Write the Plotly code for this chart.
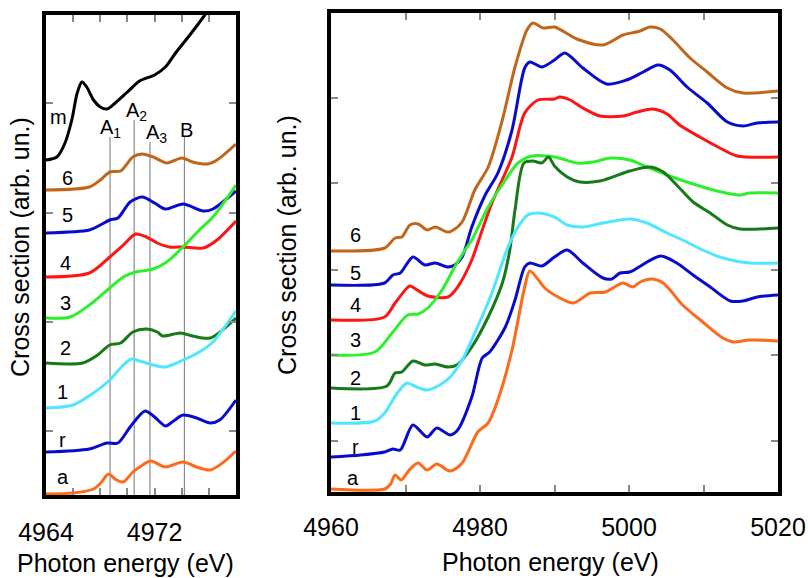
import plotly.graph_objects as go

W, H = 808, 578

# ---------------- data: right panel (full XANES), arb. units ----------------
R_a_E = [4960, 4967.2, 4968.0, 4968.6, 4969.4, 4970.5, 4971.7, 4972.9, 4974.2, 4976.0, 4977.6, 4979.7, 4981.1, 4982.4, 4984.3, 4986.0, 4986.7, 4988.7, 4990.0, 4992.5, 4994.8, 4996.8, 4999.2, 5000.5, 5001.5, 5003.1, 5004.6, 5007.2, 5009.9, 5012.6, 5014.0, 5016.2, 5020]
R_a_v = [3, 3, 8, 17, 12, 22, 29, 22, 28, 21, 29, 60, 69, 92, 142, 205, 221, 204, 197, 189, 199, 200, 209, 205, 210, 213, 209, 187, 170, 154, 150, 152, 151]

R_r_E = [4960, 4964, 4967.2, 4968.3, 4969.3, 4971.0, 4972.9, 4974.2, 4976.0, 4977.0, 4978.9, 4980.3, 4981.3, 4983.4, 4984.7, 4986.0, 4986.7, 4988.3, 4990.0, 4991.7, 4993.8, 4996.5, 4997.7, 4998.8, 5000.1, 5004.2, 5006.4, 5008.6, 5010.9, 5013.6, 5015.3, 5017.2, 5020]
R_r_v = [35, 37, 40, 43, 42, 67, 55, 64, 57, 62, 95, 134, 140, 165, 192, 225, 229, 226, 235, 242, 229, 214, 213, 219, 220, 236, 229, 217, 205, 191, 191, 195, 197]

R_1_E = [4960, 4965.9, 4967.2, 4968.9, 4970.2, 4971.5, 4972.9, 4974.6, 4976.0, 4977.6, 4979.3, 4981.6, 4983.6, 4985.1, 4986.4, 4987.8, 4990.0, 4991.7, 4993.8, 4996.5, 5000.1, 5002.4, 5005.1, 5007.2, 5009.9, 5012.6, 5016.2, 5020]
R_1_v = [69, 71, 79, 99, 109, 105, 102, 107, 115, 132, 159, 199, 242, 265, 277, 279, 275, 267, 265, 269, 273, 269, 259, 252, 242, 234, 229, 229]

R_2_E = [4960, 4967.5, 4968.6, 4969.5, 4971.0, 4972.6, 4974.0, 4975.7, 4976.9, 4978.9, 4981.1, 4983.0, 4984.0, 4984.7, 4985.9, 4987.1, 4988.3, 4989.2, 4990.0, 4991.7, 4993.4, 4996.1, 5000.1, 5002.8, 5004.6, 5006.4, 5008.6, 5010.9, 5013.2, 5014.9, 5020]
R_2_v = [104, 106, 119, 120, 131, 127, 128, 125, 127, 145, 175, 209, 242, 282, 329, 331, 329, 335, 326, 315, 310, 311, 321, 325, 320, 307, 290, 279, 267, 263, 264]

R_3_E = [4960, 4965.9, 4968.2, 4970.3, 4971.7, 4973.0, 4974.9, 4976.6, 4978.0, 4978.9, 4981.1, 4983.4, 4985.1, 4987.0, 4990.0, 4993.0, 4995.2, 4997.5, 5000.1, 5002.4, 5005.1, 5008.2, 5011.8, 5014.9, 5016.2, 5020]
R_3_v = [137, 140, 159, 177, 178, 184, 202, 225, 242, 252, 285, 312, 329, 336, 335, 329, 330, 334, 332, 325, 317, 309, 301, 297, 299, 299]

R_4_E = [4960, 4967.2, 4968.6, 4970.2, 4970.6, 4972.2, 4973.0, 4975.7, 4977.0, 4978.9, 4979.7, 4981.6, 4984.3, 4986.0, 4987.8, 4990.0, 4990.7, 4992.1, 4993.8, 4996.1, 4999.2, 5001.1, 5003.2, 5005.1, 5006.8, 5009.5, 5012.2, 5014.5, 5020]
R_4_v = [172, 175, 189, 204, 206, 199, 196, 195, 205, 232, 249, 289, 335, 379, 392, 393, 395, 392, 384, 376, 376, 380, 383, 378, 367, 355, 344, 336, 335]

R_5_E = [4960, 4967.2, 4968.3, 4969.3, 4971.0, 4972.6, 4974.0, 4975.7, 4976.6, 4977.6, 4978.9, 4980.7, 4982.4, 4984.3, 4986.0, 4986.7, 4988.3, 4990.0, 4991.4, 4993.8, 4997.0, 4999.7, 5001.9, 5003.9, 5005.5, 5007.8, 5010.5, 5013.2, 5015.3, 5017.2, 5020]
R_5_v = [207, 209, 217, 219, 235, 227, 229, 225, 227, 235, 265, 297, 319, 362, 424, 430, 425, 432, 439, 424, 408, 412, 420, 427, 422, 405, 389, 370, 366, 369, 370]

R_6_E = [4960, 4967.2, 4968.6, 4969.5, 4970.6, 4971.7, 4972.9, 4974.0, 4975.6, 4976.2, 4977.6, 4979.3, 4981.1, 4983.0, 4984.7, 4986.3, 4987.1, 4988.5, 4990.0, 4993.0, 4996.5, 4999.2, 5001.5, 5002.8, 5004.2, 5005.9, 5008.2, 5010.5, 5013.2, 5015.3, 5020]
R_6_v = [241, 244, 254, 255, 267, 268, 262, 265, 260, 261, 270, 302, 325, 372, 425, 462, 469, 464, 465, 453, 447, 457, 461, 465, 463, 452, 434, 420, 404, 399, 401]

# ---------------- data: left panel (pre-edge zoom), arb. units ----------------
L_m_E = [4964, 4964.8, 4965.4, 4965.9, 4966.3, 4966.65, 4967.0, 4967.5, 4968.0, 4968.5, 4969.1, 4970.0, 4970.9, 4972.0, 4972.8, 4973.6, 4974.6, 4975.6, 4976.5]
L_m_v = [335, 338, 352, 375, 402, 413, 408, 395, 388, 386, 392, 403, 414, 420, 428, 443, 460, 478, 495]

L_6_E = [4964, 4967.2, 4968.0, 4968.7, 4969.5, 4970.4, 4971.1, 4971.9, 4972.9, 4974.0, 4974.8, 4975.9, 4976.6, 4978]
L_6_v = [305, 308, 315, 323, 324, 338, 341, 338, 332, 337, 333, 331, 335, 351]

L_5_E = [4964, 4967.2, 4968.0, 4968.7, 4969.3, 4970.2, 4971.1, 4972.0, 4972.8, 4974.1, 4975.6, 4976.3, 4978]
L_5_v = [262, 265, 270, 275, 277, 293, 298, 292, 286, 291, 284, 286, 304]

L_4_E = [4964, 4967.2, 4968.7, 4969.7, 4970.6, 4971.4, 4972.2, 4973.1, 4974.1, 4975.6, 4976.6, 4978]
L_4_v = [218, 222, 238, 250, 261, 258, 252, 248, 248, 247, 255, 274]

L_3_E = [4964, 4965.8, 4967.2, 4968.7, 4969.7, 4970.6, 4971.9, 4972.9, 4974.1, 4975.3, 4976.3, 4978]
L_3_v = [177, 178, 190, 207, 218, 223, 226, 233, 248, 265, 278, 310]

L_2_E = [4964, 4966.7, 4967.8, 4968.7, 4969.5, 4970.4, 4971.4, 4972.2, 4972.6, 4973.9, 4974.8, 4976.1, 4978]
L_2_v = [132, 132, 140, 150, 152, 163, 166, 163, 159, 162, 159, 157, 177]

L_1_E = [4964, 4966, 4967.5, 4968.7, 4969.7, 4970.3, 4970.9, 4971.9, 4972.8, 4974.1, 4975.3, 4976.3, 4977.0, 4978]
L_1_v = [87, 90, 102, 115, 130, 136, 134, 130, 128, 135, 143, 153, 165, 184]

L_r_E = [4964, 4967.2, 4968.5, 4969.3, 4970.2, 4971.3, 4972.0, 4972.8, 4973.4, 4974.1, 4975.1, 4976.1, 4976.8, 4978]
L_r_v = [43, 46, 52, 52, 68, 84, 78, 69, 74, 80, 77, 72, 75, 95]

L_a_E = [4964, 4966, 4967.5, 4968.1, 4968.6, 4969.2, 4969.7, 4970.4, 4970.9, 4971.7, 4972.8, 4974.1, 4975.1, 4976.1, 4977.0, 4978]
L_a_v = [1, 2, 6, 13, 21, 15, 13, 23, 28, 34, 28, 33, 28, 25, 32, 44]

# pre-edge feature markers (left panel)
feat_names = ["A<sub>1</sub>", "A<sub>2</sub>", "A<sub>3</sub>", "B"]
feat_E = [4968.72, 4970.5, 4971.66, 4974.2]
feat_top = [358, 375, 353, 358]

# curve labels
lab_names = ["m", "6", "5", "4", "3", "2", "1", "r", "a"]
L_lab_E = [4964.9, 4965.55, 4965.6, 4965.4, 4965.4, 4965.4, 4965.2, 4965.2, 4965.25]
L_lab_v = [378, 317, 280, 232, 192, 147, 103, 55, 18]
R_lab_names = ["6", "5", "4", "3", "2", "1", "r", "a"]
R_lab_E = [4963.35, 4963.35, 4963.35, 4963.35, 4963.35, 4963.35, 4963.35, 4963.0]
R_lab_v = [257, 219, 187, 152, 114, 79, 45, 14]

# ticks
L_xlabels = [4964, 4972]
L_xminor = 2
R_xlabels = [4960, 4980, 5000, 5020]
R_xminor = 10
L_yticks = [64, 173, 282, 392]
R_yticks = [51, 137, 222, 309, 394]

COL = {
    "m": "#000000", "6": "#C0661A", "5": "#0A0ACD", "4": "#FF1414",
    "3": "#2DF02D", "2": "#167A16", "1": "#4FE6FF", "r": "#0A0ACD", "a": "#FF6A1A",
}

left = [("m", L_m_E, L_m_v), ("6", L_6_E, L_6_v), ("5", L_5_E, L_5_v), ("4", L_4_E, L_4_v),
        ("3", L_3_E, L_3_v), ("2", L_2_E, L_2_v), ("1", L_1_E, L_1_v), ("r", L_r_E, L_r_v),
        ("a", L_a_E, L_a_v)]
right = [("6", R_6_E, R_6_v), ("5", R_5_E, R_5_v), ("4", R_4_E, R_4_v), ("3", R_3_E, R_3_v),
         ("2", R_2_E, R_2_v), ("1", R_1_E, R_1_v), ("r", R_r_E, R_r_v), ("a", R_a_E, R_a_v)]

fig = go.Figure()

for e, top in zip(feat_E, feat_top):
    fig.add_trace(go.Scatter(x=[e, e], y=[0, top], mode="lines",
                             line=dict(color="#8a8a8a", width=1.2),
                             xaxis="x", yaxis="y", showlegend=False, hoverinfo="skip"))

for name, ex, vy in left:
    fig.add_trace(go.Scatter(x=ex, y=vy, mode="lines",
                             line=dict(color=COL[name], width=3, shape="spline", smoothing=0.8),
                             xaxis="x", yaxis="y", showlegend=False))
for name, ex, vy in right:
    fig.add_trace(go.Scatter(x=ex, y=vy, mode="lines",
                             line=dict(color=COL[name], width=3, shape="spline", smoothing=0.8),
                             xaxis="x2", yaxis="y2", showlegend=False))

FONT = "Liberation Sans, Arial, sans-serif"
TICKFONT = dict(family=FONT, size=25, color="black")

common = dict(showline=True, linecolor="black", linewidth=4, mirror="allticks",
              ticks="inside", ticklen=7, tickwidth=1.5, tickcolor="#888888",
              showgrid=False, zeroline=False, fixedrange=True, automargin=False)
minor_style = dict(ticks="inside", ticklen=7, tickwidth=1.5, tickcolor="#888888", showgrid=False)

fig.update_layout(
    width=W, height=H, margin=dict(l=0, r=0, t=0, b=0, autoexpand=False),
    paper_bgcolor="white", plot_bgcolor="white",
    xaxis=dict(domain=[46 / W, 236 / W], range=[4964, 4978], anchor="y",
               tickmode="array", tickvals=L_xlabels, tickfont=TICKFONT,
               minor=dict(dtick=L_xminor, tick0=4964, **minor_style),
               ticklabelstandoff=12, **common),
    yaxis=dict(domain=[1 - 495 / H, 1 - 15 / H], range=[0, 480], anchor="x",
               tickmode="array", tickvals=L_yticks, showticklabels=False, **common),
    xaxis2=dict(domain=[331 / W, 778 / W], range=[4960, 5020], anchor="y2",
                tickmode="array", tickvals=R_xlabels, tickfont=TICKFONT,
                minor=dict(dtick=R_xminor, tick0=4960, **minor_style),
                ticklabelstandoff=10, **common),
    yaxis2=dict(domain=[1 - 492 / H, 1 - 13 / H], range=[0, 479], anchor="x2",
                tickmode="array", tickvals=R_yticks, showticklabels=False, **common),
)

ann = []
for n, e, v in zip(lab_names, L_lab_E, L_lab_v):
    ann.append(dict(x=e, y=v, xref="x", yref="y", text=n, showarrow=False,
                    font=dict(family=FONT, size=20, color="black"),
                    xanchor="center", yanchor="middle"))
for n, e, v in zip(R_lab_names, R_lab_E, R_lab_v):
    ann.append(dict(x=e, y=v, xref="x2", yref="y2", text=n, showarrow=False,
                    font=dict(family=FONT, size=20, color="black"),
                    xanchor="center", yanchor="middle"))
feat_shift = [0, 2, 7, 2]
for n, e, top, sh in zip(feat_names, feat_E, feat_top, feat_shift):
    ann.append(dict(x=e, y=top, xref="x", yref="y", text=n, showarrow=False,
                    font=dict(family=FONT, size=20, color="black"),
                    xanchor="center", yanchor="bottom", yshift=-6, xshift=sh))

ann += [
    dict(x=125 / W, y=1 - 563 / H, xref="paper", yref="paper", text="Photon energy (eV)",
         showarrow=False, font=dict(family=FONT, size=25, color="black"),
         xanchor="center", yanchor="middle"),
    dict(x=550 / W, y=1 - 562 / H, xref="paper", yref="paper", text="Photon energy (eV)",
         showarrow=False, font=dict(family=FONT, size=25, color="black"),
         xanchor="center", yanchor="middle"),
    dict(x=20 / W, y=1 - 247 / H, xref="paper", yref="paper", text="Cross section (arb. un.)",
         showarrow=False, textangle=-90, font=dict(family=FONT, size=25, color="black"),
         xanchor="center", yanchor="middle"),
    dict(x=287 / W, y=1 - 245 / H, xref="paper", yref="paper", text="Cross section (arb. un.)",
         showarrow=False, textangle=-90, font=dict(family=FONT, size=25, color="black"),
         xanchor="center", yanchor="middle"),
]
fig.update_layout(annotations=ann)

fig.write_html("out.html")
